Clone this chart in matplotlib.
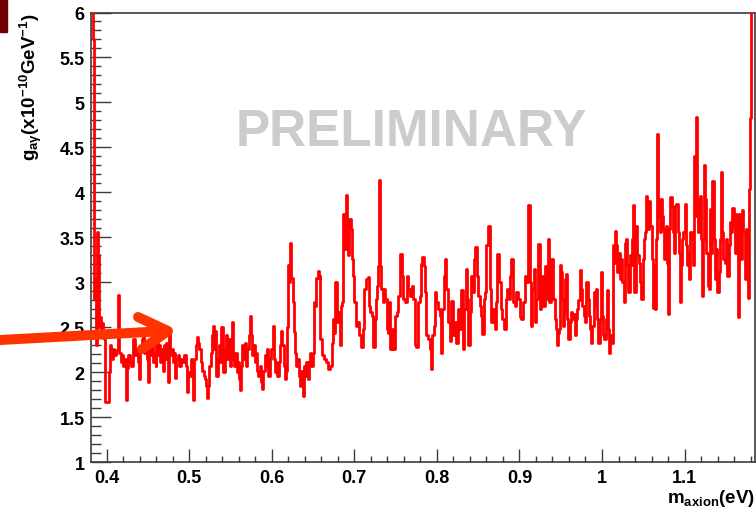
import numpy as np
import matplotlib.pyplot as plt
from matplotlib.lines import Line2D
from matplotlib.patches import Rectangle
from matplotlib.ticker import MultipleLocator, FormatStrFormatter

plt.rcParams['font.family'] = ['Liberation Sans', 'DejaVu Sans']
plt.rcParams['mathtext.fontset'] = 'custom'
plt.rcParams['mathtext.rm'] = 'Liberation Sans:bold'
plt.rcParams['mathtext.it'] = 'Liberation Sans:bold'
plt.rcParams['mathtext.bf'] = 'Liberation Sans:bold'
plt.rcParams['mathtext.default'] = 'regular'

# Upper limit on the axion-photon coupling vs. axion mass (bin low edges / values)
mass_low = [0.3812, 0.3836, 0.3847, 0.3858, 0.3870, 0.3880, 0.3895, 0.3903, 0.3915, 0.3928,
            0.3940, 0.3955, 0.3968, 0.3985, 0.4030, 0.4045, 0.4060, 0.4075, 0.4090, 0.4110,
            0.4135, 0.4155, 0.4170, 0.4185, 0.4200, 0.4215, 0.4235, 0.4250, 0.4265, 0.4280,
            0.4300, 0.4320, 0.4340, 0.4360, 0.4380, 0.4393, 0.4410, 0.4425, 0.4440, 0.4455,
            0.4470, 0.4490, 0.4505, 0.4520, 0.4535, 0.4550, 0.4565, 0.4580, 0.4595, 0.4605,
            0.4620, 0.4635, 0.4650, 0.4665, 0.4680, 0.4695, 0.4710, 0.4725, 0.4740, 0.4755,
            0.4770, 0.4790, 0.4805, 0.4820, 0.4830, 0.4845, 0.4860, 0.4880, 0.4900, 0.4920,
            0.4940, 0.4960, 0.4975, 0.4990, 0.5005, 0.5020, 0.5035, 0.5050, 0.5065, 0.5080,
            0.5095, 0.5110, 0.5125, 0.5140, 0.5160, 0.5175, 0.5190, 0.5205, 0.5215, 0.5230,
            0.5245, 0.5260, 0.5275, 0.5285, 0.5300, 0.5315, 0.5330, 0.5345, 0.5360, 0.5375,
            0.5390, 0.5405, 0.5415, 0.5430, 0.5445, 0.5460, 0.5475, 0.5490, 0.5505, 0.5515,
            0.5530, 0.5545, 0.5560, 0.5575, 0.5590, 0.5605, 0.5615, 0.5630, 0.5645, 0.5660,
            0.5675, 0.5690, 0.5705, 0.5720, 0.5735, 0.5750, 0.5765, 0.5780, 0.5795, 0.5810,
            0.5825, 0.5840, 0.5855, 0.5870, 0.5885, 0.5900, 0.5915, 0.5930, 0.5945, 0.5960,
            0.5975, 0.5990, 0.6010, 0.6025, 0.6040, 0.6055, 0.6070, 0.6085, 0.6100, 0.6115,
            0.6130, 0.6145, 0.6160, 0.6175, 0.6190, 0.6200, 0.6215, 0.6225, 0.6240, 0.6255,
            0.6270, 0.6285, 0.6300, 0.6315, 0.6330, 0.6345, 0.6360, 0.6375, 0.6390, 0.6405,
            0.6420, 0.6435, 0.6450, 0.6465, 0.6480, 0.6495, 0.6510, 0.6525, 0.6540, 0.6555,
            0.6570]
g_low = [6.40, 5.70, 2.81, 3.05, 2.30, 3.56, 3.30, 2.50, 2.62, 2.45,
         2.55, 2.40, 2.37, 1.67, 2.00, 2.30, 2.15, 2.26, 2.19, 2.25,
         2.86, 2.22, 2.11, 2.19, 2.07, 2.15, 1.69, 2.05, 2.19, 2.11,
         2.07, 2.37, 2.19, 2.26, 2.11, 1.93, 2.26, 2.37, 2.41, 2.22,
         2.30, 2.15, 1.89, 2.26, 2.19, 2.33, 2.11, 2.22, 2.07, 2.41,
         2.19, 2.30, 2.11, 2.26, 2.02, 2.30, 2.15, 2.33, 1.89, 2.43,
         2.19, 2.26, 2.11, 2.22, 1.94, 2.15, 2.19, 2.07, 2.15, 2.11,
         2.19, 2.07, 1.78, 2.00, 1.96, 2.15, 2.07, 1.69, 2.15, 2.30,
         2.39, 2.33, 2.26, 2.11, 2.02, 1.96, 1.93, 1.85, 1.72, 1.85,
         2.07, 2.22, 2.41, 2.52, 2.26, 2.46, 1.96, 2.15, 2.30, 2.11,
         2.50, 2.19, 2.00, 2.26, 2.41, 2.15, 2.37, 2.07, 2.30, 2.56,
         2.15, 2.07, 2.22, 2.00, 2.11, 1.93, 1.80, 2.07, 2.30, 2.15,
         2.33, 2.07, 2.26, 2.41, 2.63, 2.41, 2.19, 2.30, 2.11, 2.22,
         2.02, 1.96, 2.07, 1.89, 1.81, 2.02, 2.19, 2.07, 2.26, 1.96,
         2.15, 2.26, 2.52, 2.15, 2.00, 2.11, 1.96, 2.11, 2.30, 2.46,
         2.30, 2.07, 1.93, 2.02, 2.50, 3.19, 3.00, 3.44, 3.05, 2.78,
         2.45, 2.22, 2.07, 2.15, 1.96, 1.85, 2.02, 1.74, 2.07, 1.96,
         2.11, 1.93, 2.11, 2.22, 2.07, 2.22, 2.78, 2.74, 3.05, 3.13,
         3.05]

mass_mid = [0.6582, 0.6590, 0.6606, 0.6631, 0.6655, 0.6683, 0.6711, 0.6736, 0.6744, 0.6760,
            0.6772, 0.6788, 0.6804, 0.6824, 0.6844, 0.6857, 0.6869, 0.6885, 0.6901, 0.6913,
            0.6925, 0.6941, 0.6958, 0.6970, 0.6986, 0.7002, 0.7018, 0.7038, 0.7058, 0.7083,
            0.7103, 0.7123, 0.7143, 0.7163, 0.7179, 0.7196, 0.7212, 0.7228, 0.7248, 0.7264,
            0.7280, 0.7292, 0.7301, 0.7313, 0.7329, 0.7345, 0.7361, 0.7377, 0.7393, 0.7410,
            0.7422, 0.7438, 0.7458, 0.7474, 0.7494, 0.7514, 0.7535, 0.7559, 0.7575, 0.7595,
            0.7615, 0.7636, 0.7656, 0.7676, 0.7696, 0.7716, 0.7732, 0.7753, 0.7773, 0.7793,
            0.7809, 0.7825, 0.7841, 0.7858, 0.7874, 0.7894, 0.7914, 0.7930, 0.7946, 0.7962,
            0.7975, 0.7995, 0.8015, 0.8035, 0.8047, 0.8067, 0.8084, 0.8100, 0.8116, 0.8136,
            0.8156, 0.8176, 0.8197, 0.8217, 0.8237, 0.8257, 0.8277, 0.8297, 0.8314, 0.8334,
            0.8350, 0.8366, 0.8382, 0.8398, 0.8419, 0.8439, 0.8455, 0.8467, 0.8487, 0.8503,
            0.8519, 0.8540, 0.8552, 0.8568, 0.8584, 0.8600, 0.8624, 0.8641, 0.8661, 0.8681,
            0.8701, 0.8717, 0.8733, 0.8753, 0.8774, 0.8794, 0.8814, 0.8834, 0.8854, 0.8875,
            0.8891, 0.8903, 0.8923, 0.8943, 0.8963, 0.8984, 0.9004, 0.9024, 0.9044, 0.9064,
            0.9084, 0.9101, 0.9109, 0.9125, 0.9141, 0.9157, 0.9173, 0.9189, 0.9206, 0.9226,
            0.9246, 0.9266, 0.9286, 0.9307, 0.9327, 0.9347, 0.9363]
g_mid = [3.07, 2.37, 2.19, 2.15, 2.11, 2.04, 2.07, 2.33, 2.59, 2.44,
         3.00, 2.56, 2.67, 2.30, 2.74, 2.78, 3.76, 3.37, 3.97, 3.55,
         3.30, 3.70, 3.59, 3.26, 3.07, 2.78, 2.52, 2.56, 2.41, 2.28,
         2.48, 2.93, 3.04, 3.06, 2.74, 2.67, 2.63, 2.28, 2.59, 2.81,
         2.96, 3.18, 4.14, 3.18, 2.93, 2.78, 2.93, 2.81, 2.48, 2.44,
         2.78, 2.26, 2.48, 2.26, 2.63, 2.67, 2.85, 3.31, 3.07, 2.81,
         2.78, 3.07, 2.93, 2.85, 2.96, 2.81, 2.30, 2.28, 2.78, 2.85,
         3.20, 3.28, 3.18, 2.89, 2.41, 2.37, 2.26, 2.04, 2.41, 2.52,
         2.89, 2.78, 2.70, 2.63, 2.22, 2.70, 3.07, 3.26, 2.93, 2.56,
         2.35, 2.79, 2.41, 2.56, 2.33, 2.70, 2.48, 2.91, 2.26, 2.70,
         3.15, 2.81, 2.30, 2.67, 3.07, 2.89, 3.26, 3.39, 3.07, 2.85,
         2.74, 2.63, 2.43, 2.81, 2.89, 3.41, 3.63, 2.93, 2.56, 2.70,
         2.48, 2.78, 3.31, 3.00, 2.70, 2.59, 2.48, 2.81, 2.93, 2.81,
         3.07, 3.26, 2.78, 2.74, 2.89, 2.81, 2.61, 2.59, 2.78, 3.07,
         3.00, 3.74, 3.86, 3.00, 2.52, 2.93, 3.15, 2.56, 2.81, 3.43,
         2.70, 3.07, 2.74, 3.18, 2.81, 3.48, 2.78]

mass_high = [0.9387, 0.9408, 0.9428, 0.9440, 0.9456, 0.9468, 0.9480, 0.9488, 0.9500, 0.9513,
             0.9529, 0.9541, 0.9557, 0.9569, 0.9581, 0.9593, 0.9609, 0.9626, 0.9642, 0.9658,
             0.9670, 0.9682, 0.9698, 0.9710, 0.9730, 0.9747, 0.9763, 0.9779, 0.9795, 0.9811,
             0.9827, 0.9843, 0.9856, 0.9868, 0.9884, 0.9900, 0.9916, 0.9932, 0.9944, 0.9956,
             0.9973, 0.9985, 0.9997, 1.0013, 1.0029, 1.0045, 1.0057, 1.0070, 1.0086, 1.0102,
             1.0118, 1.0130, 1.0142, 1.0158, 1.0174, 1.0187, 1.0203, 1.0215, 1.0231, 1.0247,
             1.0263, 1.0275, 1.0291, 1.0304, 1.0320, 1.0336, 1.0352, 1.0368, 1.0376, 1.0388,
             1.0417, 1.0429, 1.0445, 1.0461, 1.0477, 1.0493, 1.0505, 1.0522, 1.0530, 1.0542,
             1.0554, 1.0570, 1.0586, 1.0602, 1.0618, 1.0635, 1.0647, 1.0659, 1.0671, 1.0683,
             1.0695, 1.0707, 1.0719, 1.0731, 1.0744, 1.0756, 1.0772, 1.0784, 1.0796, 1.0808,
             1.0820, 1.0828, 1.0844, 1.0857, 1.0869, 1.0885, 1.0901, 1.0917, 1.0929, 1.0945,
             1.0957, 1.0970, 1.0986, 1.1002, 1.1014, 1.1030, 1.1046, 1.1058, 1.1070, 1.1087,
             1.1099, 1.1111, 1.1127, 1.1139, 1.1151, 1.1167, 1.1183, 1.1196, 1.1208, 1.1220,
             1.1236, 1.1248, 1.1264, 1.1280, 1.1296, 1.1313, 1.1325, 1.1337, 1.1353, 1.1365,
             1.1381, 1.1397, 1.1413, 1.1426, 1.1442, 1.1454, 1.1470, 1.1486, 1.1502, 1.1518,
             1.1535, 1.1547, 1.1563, 1.1579, 1.1595, 1.1607, 1.1620, 1.1632, 1.1644, 1.1656,
             1.1672, 1.1684, 1.1700, 1.1712, 1.1728, 1.1744, 1.1757, 1.1769, 1.1781, 1.1797,
             1.1809, 1.1853]
g_high = [3.26, 2.81, 2.59, 2.48, 2.30, 2.44, 2.48, 3.19, 3.11, 2.81,
          2.52, 2.67, 3.04, 3.09, 2.59, 2.37, 2.56, 2.67, 2.59, 2.65,
          2.41, 2.59, 2.70, 2.80, 3.14, 2.93, 2.74, 2.63, 2.56, 3.00,
          2.81, 2.63, 2.48, 2.33, 2.52, 2.89, 2.74, 2.93, 2.59, 2.33,
          2.59, 3.11, 2.63, 2.41, 2.37, 2.59, 2.91, 2.48, 2.22, 2.41,
          2.33, 3.41, 3.22, 3.57, 3.41, 3.11, 3.33, 3.04, 3.26, 3.00,
          2.78, 3.44, 3.48, 3.19, 2.89, 3.30, 3.19, 3.48, 3.86, 2.89,
          3.63, 3.30, 3.22, 3.00, 2.81, 3.26, 3.48, 3.56, 3.96, 3.78,
          3.59, 3.91, 3.63, 3.26, 2.72, 3.19, 2.70, 3.48, 4.65, 3.93,
          3.74, 3.56, 3.93, 3.74, 3.59, 3.26, 3.63, 3.22, 2.65, 3.59,
          3.74, 3.95, 3.85, 3.56, 3.33, 3.85, 3.87, 3.56, 3.33, 2.78,
          3.19, 3.48, 3.56, 3.87, 3.41, 3.19, 3.33, 3.04, 3.56, 3.48,
          3.19, 4.41, 3.74, 4.84, 3.93, 3.56, 3.96, 3.48, 2.85, 3.48,
          4.31, 3.93, 3.33, 2.96, 2.93, 3.82, 3.33, 4.13, 3.48, 3.04,
          3.37, 2.89, 3.11, 3.48, 4.23, 3.56, 3.26, 3.22, 3.48, 3.07,
          3.41, 3.67, 3.56, 3.83, 3.63, 3.33, 3.76, 3.56, 2.61, 3.76,
          3.56, 3.26, 3.80, 3.56, 3.04, 3.59, 3.56, 2.83, 4.04, 4.83,
          6.50, 6.50]

mass = np.array(mass_low + mass_mid + mass_high)
g_limit = np.array(g_low + g_mid + g_high)

fig = plt.figure(figsize=(7.56, 5.10), dpi=100)
ax = fig.add_axes([91 / 756, 1 - 463.3 / 510, 664 / 756, 449.8 / 510])

ax.step(mass, g_limit, where='post', color='#ff0000', lw=2.0, zorder=3)

ax.set_xlim(0.3812, 1.1853)
ax.set_ylim(1, 6)

ax.xaxis.set_major_locator(MultipleLocator(0.1))
ax.xaxis.set_minor_locator(MultipleLocator(0.02))
ax.yaxis.set_major_locator(MultipleLocator(0.5))
ax.yaxis.set_minor_locator(MultipleLocator(0.1))
ax.xaxis.set_major_formatter(FormatStrFormatter('%g'))
ax.yaxis.set_major_formatter(FormatStrFormatter('%g'))

frame_col = '#3c3c3c'
for sp in ax.spines.values():
    sp.set_color(frame_col)
    sp.set_linewidth(1.2)

ax.tick_params(axis='both', which='both', direction='in', color=frame_col,
               top=False, right=False, width=1.0)
ax.tick_params(axis='y', which='major', length=14.4, pad=4.5)
ax.tick_params(axis='y', which='minor', length=7.2)
ax.tick_params(axis='x', which='major', length=9.4, pad=5)
ax.tick_params(axis='x', which='minor', length=4.3)
for lbl in ax.get_xticklabels() + ax.get_yticklabels():
    lbl.set_fontweight('bold')
    lbl.set_fontsize(13)

# axis titles, ROOT style
fig.text(31 / 756, 1 - 13 / 510, r'g$_{a\gamma}$(x10$^{-10}$GeV$^{-1}$)',
         rotation=90, ha='center', va='top', fontsize=13.5, fontweight='bold')
fig.text(755 / 756, 1 - 503 / 510, r'm$_{axion}$(eV)', ha='right', va='baseline',
         fontsize=13.5, fontweight='bold')

# watermark
ax.text(0.483, 0.735, 'PRELIMINARY', transform=ax.transAxes, ha='center', va='center',
        fontsize=37, fontweight='bold', color='#cccccc', zorder=1)

# slide decorations: corner block and pointer arrow
fig.patches.append(Rectangle((0, 1 - 33 / 510), 7 / 756, 33 / 510,
                             transform=fig.transFigure, color='#6e0000'))
arrow_col = '#ff3300'
arrow_lw = 7.2
fig.add_artist(Line2D([0 / 756, 166 / 756], [1 - 341 / 510, 1 - 332 / 510],
                      transform=fig.transFigure, color=arrow_col, lw=arrow_lw,
                      solid_capstyle='round', zorder=10))
fig.add_artist(Line2D([138 / 756, 168 / 756, 142 / 756],
                      [1 - 318 / 510, 1 - 332 / 510, 1 - 350 / 510],
                      transform=fig.transFigure, color=arrow_col, lw=arrow_lw,
                      solid_capstyle='round', solid_joinstyle='round', zorder=10))

fig.savefig('out.png', dpi=100)
